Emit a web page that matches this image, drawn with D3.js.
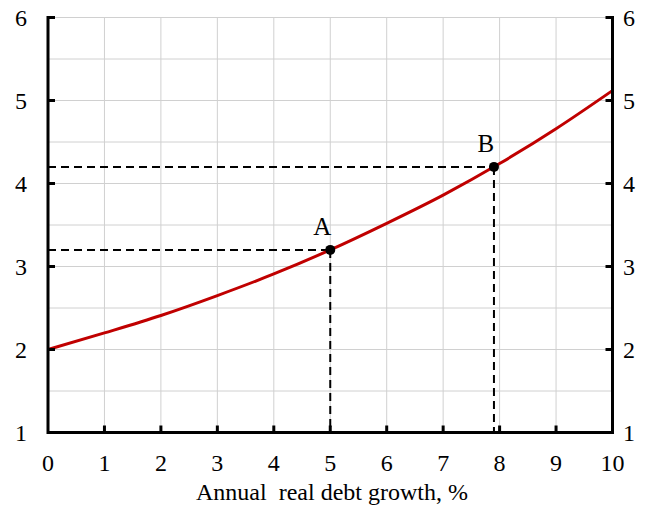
<!DOCTYPE html>
<html><head><meta charset="utf-8">
<script src="https://cdn.jsdelivr.net/npm/d3@7"></script>
<style>body{margin:0;background:#fff}svg{display:block}text{font-family:"Liberation Serif","Times New Roman",serif;fill:#000}</style>
</head><body><svg id="c" width="648" height="508"></svg>
<script>
const xValues = [0,1,2,3,4,5,6,7,8,9,10];
const yValues = [2.00,2.20,2.41,2.65,2.91,3.20,3.52,3.86,4.24,4.66,5.12];
const points = [{label:"A", x:5, y:3.2},{label:"B", x:7.9, y:4.2}];
const xTicks = [0,1,2,3,4,5,6,7,8,9,10];
const yTicks = [1,2,3,4,5,6];
const yGrid = [1,1.5,2,2.5,3,3.5,4,4.5,5,5.5,6];
const xTitle = "Annual\u00a0 real debt growth, %";

const svg = d3.select("#c");
const L=48, R=612.5, T=17.5, B=432.5;
const x = d3.scaleLinear().domain([0,10]).range([L,R]);
const y = d3.scaleLinear().domain([1,6]).range([B,T]);

// grid
svg.append("g").selectAll("line").data(xTicks).join("line")
  .attr("x1",d=>x(d)).attr("x2",d=>x(d)).attr("y1",T).attr("y2",B)
  .attr("stroke","#d0d0d0").attr("stroke-width",1);
svg.append("g").selectAll("line").data(yGrid).join("line")
  .attr("x1",L).attr("x2",R).attr("y1",d=>y(d)).attr("y2",d=>y(d))
  .attr("stroke","#d0d0d0").attr("stroke-width",1);

// dashed guides
const dg = svg.append("g").attr("stroke","#000").attr("stroke-width",2).attr("stroke-dasharray","8,5").attr("fill","none");
points.forEach(p=>{
  dg.append("line").attr("x1",L).attr("x2",x(p.x)).attr("y1",y(p.y)).attr("y2",y(p.y));
  dg.append("line").attr("x1",x(p.x)).attr("x2",x(p.x)).attr("y1",y(p.y)).attr("y2",B);
});

// curve
svg.append("path").datum(xValues.map((v,i)=>[v,yValues[i]]))
  .attr("d",d3.line().x(d=>x(d[0])).y(d=>y(d[1])).curve(d3.curveMonotoneX))
  .attr("fill","none").attr("stroke","#c00000").attr("stroke-width",3);

// axes
const ax = svg.append("g").attr("stroke","#000").attr("stroke-width",3).attr("fill","none");
ax.append("path").attr("d",`M${L},${T-1.5}V${B}H${R}V${T-1.5}`);
const tk = svg.append("g").attr("stroke","#000").attr("stroke-width",3);
tk.selectAll(".xl").data(xTicks.slice(1,-1)).join("line")
  .attr("x1",d=>x(d)).attr("x2",d=>x(d)).attr("y1",B).attr("y2",B-7);
tk.selectAll(".yl").data(yTicks).join("line")
  .attr("x1",L).attr("x2",L+7).attr("y1",d=>y(d)).attr("y2",d=>y(d));
tk.selectAll(".yr").data(yTicks).join("line")
  .attr("x1",R).attr("x2",R-7).attr("y1",d=>y(d)).attr("y2",d=>y(d));

// tick labels
svg.append("g").selectAll("text").data(xTicks).join("text")
  .attr("x",d=>x(d)).attr("y",471).attr("text-anchor","middle").attr("font-size",24).text(d=>d);
svg.append("g").selectAll("text").data(yTicks).join("text")
  .attr("x",21).attr("y",d=>y(d)+8.5).attr("text-anchor","middle").attr("font-size",24).text(d=>d);
svg.append("g").selectAll("text").data(yTicks).join("text")
  .attr("x",629).attr("y",d=>y(d)+8.5).attr("text-anchor","middle").attr("font-size",24).text(d=>d);

svg.append("text").attr("x",332).attr("y",500).attr("text-anchor","middle").attr("font-size",24).text(xTitle);

// points
svg.append("g").selectAll("circle").data(points).join("circle")
  .attr("cx",d=>x(d.x)).attr("cy",d=>y(d.y)).attr("r",5).attr("fill","#000");
svg.append("g").selectAll("text").data(points).join("text")
  .attr("x",d=>x(d.x)-8).attr("y",d=>y(d.y)-15).attr("text-anchor","middle").attr("font-size",25).text(d=>d.label);
</script></body></html>
